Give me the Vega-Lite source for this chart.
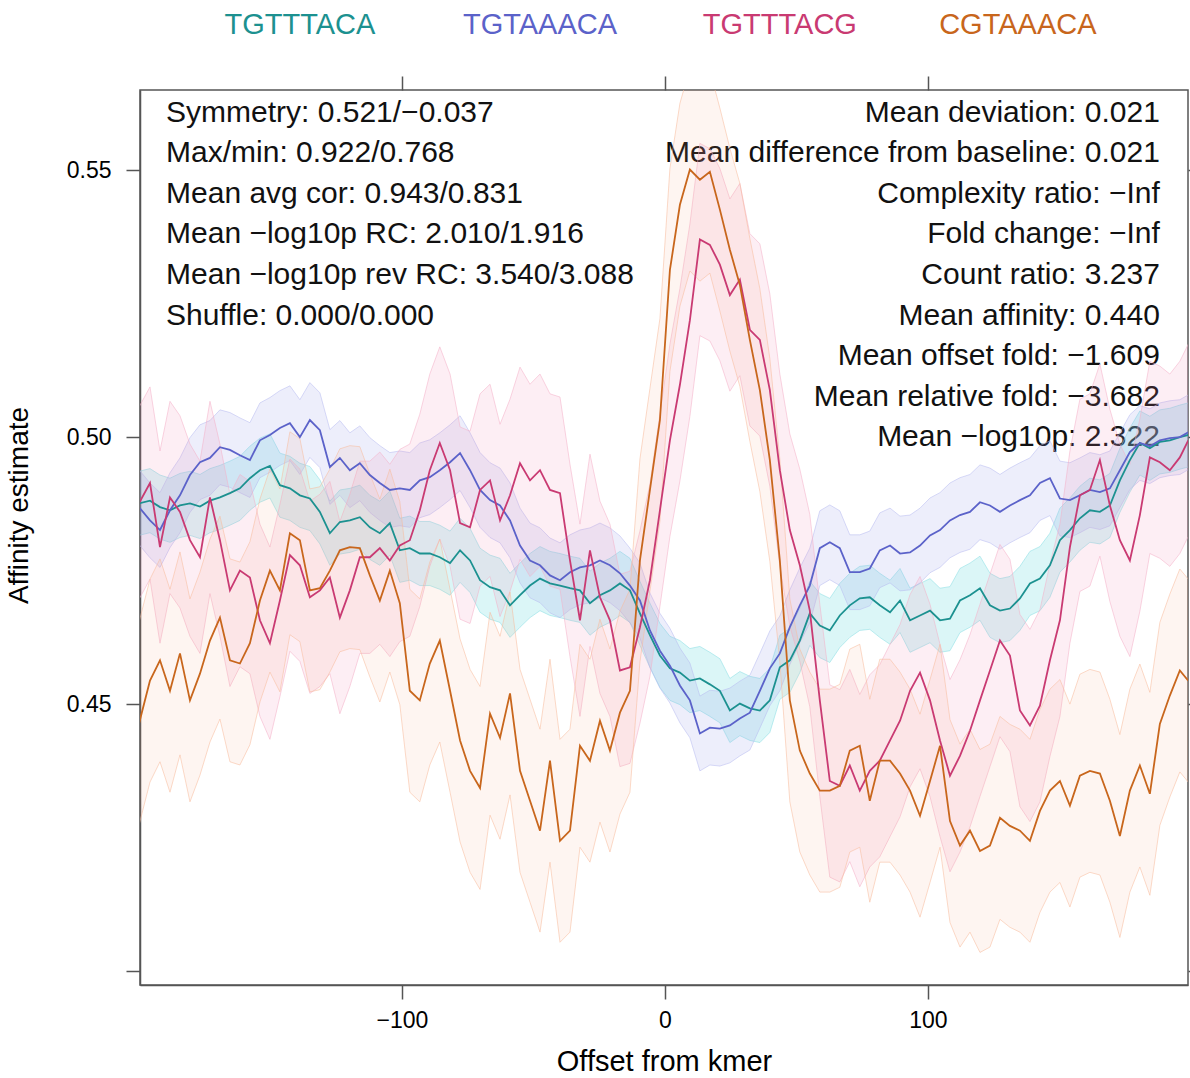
{
"$schema": "https://vega.github.io/schema/vega-lite/v6.json",
"width": 1048, "height": 895,
"autosize": {"type": "none"},
"padding": {"left": 140, "top": 90, "right": 2, "bottom": 93},
"background": "white",
"config": {
 "font": "Liberation Sans",
 "view": {"stroke": "#555555", "strokeWidth": 1.5},
 "axis": {"domainColor": "#555555", "domainWidth": 1.5, "tickColor": "#555555", "tickWidth": 1.5, "tickSize": 14, "labelColor": "black", "labelFont": "Liberation Sans", "labelFontSize": 23, "titleFont": "Liberation Sans", "titleFontWeight": "normal", "titleColor": "black", "grid": false, "labelOverlap": false, "labelBound": false}
},
"datasets": {
"curves": [
{"s":"TGTTTACA","x":-200,"y":0.4876,"lo":0.4816,"hi":0.4936},
{"s":"TGTTTACA","x":-195.8,"y":0.4881,"lo":0.4821,"hi":0.4941},
{"s":"TGTTTACA","x":-192.0,"y":0.4869,"lo":0.4809,"hi":0.4929},
{"s":"TGTTTACA","x":-188.2,"y":0.4863,"lo":0.4803,"hi":0.4923},
{"s":"TGTTTACA","x":-184.4,"y":0.4872,"lo":0.4812,"hi":0.4932},
{"s":"TGTTTACA","x":-180.6,"y":0.4876,"lo":0.4816,"hi":0.4936},
{"s":"TGTTTACA","x":-176.8,"y":0.4870,"lo":0.4810,"hi":0.4930},
{"s":"TGTTTACA","x":-173.0,"y":0.4881,"lo":0.4821,"hi":0.4941},
{"s":"TGTTTACA","x":-169.2,"y":0.4887,"lo":0.4827,"hi":0.4947},
{"s":"TGTTTACA","x":-165.4,"y":0.4895,"lo":0.4835,"hi":0.4955},
{"s":"TGTTTACA","x":-161.6,"y":0.4904,"lo":0.4844,"hi":0.4964},
{"s":"TGTTTACA","x":-157.8,"y":0.4923,"lo":0.4863,"hi":0.4983},
{"s":"TGTTTACA","x":-154.0,"y":0.4938,"lo":0.4878,"hi":0.4998},
{"s":"TGTTTACA","x":-150.2,"y":0.4946,"lo":0.4886,"hi":0.5006},
{"s":"TGTTTACA","x":-146.4,"y":0.4910,"lo":0.4850,"hi":0.4970},
{"s":"TGTTTACA","x":-142.6,"y":0.4904,"lo":0.4844,"hi":0.4964},
{"s":"TGTTTACA","x":-138.8,"y":0.4891,"lo":0.4831,"hi":0.4951},
{"s":"TGTTTACA","x":-135.0,"y":0.4885,"lo":0.4825,"hi":0.4945},
{"s":"TGTTTACA","x":-131.2,"y":0.4860,"lo":0.4800,"hi":0.4920},
{"s":"TGTTTACA","x":-127.4,"y":0.4820,"lo":0.4760,"hi":0.4880},
{"s":"TGTTTACA","x":-123.6,"y":0.4841,"lo":0.4781,"hi":0.4901},
{"s":"TGTTTACA","x":-119.8,"y":0.4844,"lo":0.4784,"hi":0.4904},
{"s":"TGTTTACA","x":-116.0,"y":0.4850,"lo":0.4790,"hi":0.4910},
{"s":"TGTTTACA","x":-112.2,"y":0.4831,"lo":0.4771,"hi":0.4891},
{"s":"TGTTTACA","x":-108.4,"y":0.4820,"lo":0.4760,"hi":0.4880},
{"s":"TGTTTACA","x":-104.6,"y":0.4839,"lo":0.4779,"hi":0.4899},
{"s":"TGTTTACA","x":-100.8,"y":0.4788,"lo":0.4728,"hi":0.4848},
{"s":"TGTTTACA","x":-97.0,"y":0.4792,"lo":0.4732,"hi":0.4852},
{"s":"TGTTTACA","x":-93.2,"y":0.4782,"lo":0.4722,"hi":0.4842},
{"s":"TGTTTACA","x":-89.4,"y":0.4782,"lo":0.4722,"hi":0.4842},
{"s":"TGTTTACA","x":-85.6,"y":0.4775,"lo":0.4715,"hi":0.4835},
{"s":"TGTTTACA","x":-81.7,"y":0.4764,"lo":0.4704,"hi":0.4824},
{"s":"TGTTTACA","x":-77.9,"y":0.4788,"lo":0.4728,"hi":0.4848},
{"s":"TGTTTACA","x":-74.1,"y":0.4769,"lo":0.4709,"hi":0.4829},
{"s":"TGTTTACA","x":-70.3,"y":0.4732,"lo":0.4672,"hi":0.4792},
{"s":"TGTTTACA","x":-66.5,"y":0.4719,"lo":0.4659,"hi":0.4779},
{"s":"TGTTTACA","x":-62.7,"y":0.4713,"lo":0.4653,"hi":0.4773},
{"s":"TGTTTACA","x":-58.9,"y":0.4685,"lo":0.4625,"hi":0.4745},
{"s":"TGTTTACA","x":-55.1,"y":0.4704,"lo":0.4644,"hi":0.4764},
{"s":"TGTTTACA","x":-51.3,"y":0.4722,"lo":0.4662,"hi":0.4782},
{"s":"TGTTTACA","x":-47.5,"y":0.4735,"lo":0.4675,"hi":0.4795},
{"s":"TGTTTACA","x":-43.7,"y":0.4726,"lo":0.4666,"hi":0.4786},
{"s":"TGTTTACA","x":-39.9,"y":0.4722,"lo":0.4662,"hi":0.4782},
{"s":"TGTTTACA","x":-36.1,"y":0.4717,"lo":0.4657,"hi":0.4777},
{"s":"TGTTTACA","x":-32.3,"y":0.4713,"lo":0.4653,"hi":0.4773},
{"s":"TGTTTACA","x":-28.5,"y":0.4689,"lo":0.4629,"hi":0.4749},
{"s":"TGTTTACA","x":-24.7,"y":0.4704,"lo":0.4644,"hi":0.4764},
{"s":"TGTTTACA","x":-20.9,"y":0.4713,"lo":0.4653,"hi":0.4773},
{"s":"TGTTTACA","x":-17.1,"y":0.4726,"lo":0.4666,"hi":0.4786},
{"s":"TGTTTACA","x":-13.3,"y":0.4713,"lo":0.4653,"hi":0.4773},
{"s":"TGTTTACA","x":-9.5,"y":0.4670,"lo":0.4610,"hi":0.4730},
{"s":"TGTTTACA","x":-5.7,"y":0.4629,"lo":0.4569,"hi":0.4689},
{"s":"TGTTTACA","x":-1.9,"y":0.4591,"lo":0.4531,"hi":0.4651},
{"s":"TGTTTACA","x":1.9,"y":0.4567,"lo":0.4507,"hi":0.4627},
{"s":"TGTTTACA","x":5.7,"y":0.4559,"lo":0.4499,"hi":0.4619},
{"s":"TGTTTACA","x":9.5,"y":0.4544,"lo":0.4484,"hi":0.4604},
{"s":"TGTTTACA","x":13.3,"y":0.4548,"lo":0.4488,"hi":0.4608},
{"s":"TGTTTACA","x":17.1,"y":0.4537,"lo":0.4477,"hi":0.4597},
{"s":"TGTTTACA","x":20.9,"y":0.4525,"lo":0.4465,"hi":0.4585},
{"s":"TGTTTACA","x":24.7,"y":0.4488,"lo":0.4428,"hi":0.4548},
{"s":"TGTTTACA","x":28.5,"y":0.4501,"lo":0.4441,"hi":0.4561},
{"s":"TGTTTACA","x":32.3,"y":0.4492,"lo":0.4432,"hi":0.4552},
{"s":"TGTTTACA","x":36.1,"y":0.4488,"lo":0.4428,"hi":0.4548},
{"s":"TGTTTACA","x":39.9,"y":0.4507,"lo":0.4447,"hi":0.4567},
{"s":"TGTTTACA","x":43.7,"y":0.4569,"lo":0.4509,"hi":0.4629},
{"s":"TGTTTACA","x":47.5,"y":0.4582,"lo":0.4522,"hi":0.4642},
{"s":"TGTTTACA","x":51.3,"y":0.4619,"lo":0.4559,"hi":0.4679},
{"s":"TGTTTACA","x":55.1,"y":0.4670,"lo":0.4610,"hi":0.4730},
{"s":"TGTTTACA","x":58.9,"y":0.4647,"lo":0.4587,"hi":0.4707},
{"s":"TGTTTACA","x":62.7,"y":0.4638,"lo":0.4578,"hi":0.4698},
{"s":"TGTTTACA","x":66.5,"y":0.4666,"lo":0.4606,"hi":0.4726},
{"s":"TGTTTACA","x":70.3,"y":0.4685,"lo":0.4625,"hi":0.4745},
{"s":"TGTTTACA","x":74.1,"y":0.4698,"lo":0.4638,"hi":0.4758},
{"s":"TGTTTACA","x":77.9,"y":0.4700,"lo":0.4640,"hi":0.4760},
{"s":"TGTTTACA","x":81.7,"y":0.4685,"lo":0.4625,"hi":0.4745},
{"s":"TGTTTACA","x":85.6,"y":0.4672,"lo":0.4612,"hi":0.4732},
{"s":"TGTTTACA","x":89.4,"y":0.4694,"lo":0.4634,"hi":0.4754},
{"s":"TGTTTACA","x":93.2,"y":0.4657,"lo":0.4597,"hi":0.4717},
{"s":"TGTTTACA","x":97.0,"y":0.4666,"lo":0.4606,"hi":0.4726},
{"s":"TGTTTACA","x":100.8,"y":0.4675,"lo":0.4615,"hi":0.4735},
{"s":"TGTTTACA","x":104.6,"y":0.4657,"lo":0.4597,"hi":0.4717},
{"s":"TGTTTACA","x":108.4,"y":0.4660,"lo":0.4600,"hi":0.4720},
{"s":"TGTTTACA","x":112.2,"y":0.4694,"lo":0.4634,"hi":0.4754},
{"s":"TGTTTACA","x":116.0,"y":0.4704,"lo":0.4644,"hi":0.4764},
{"s":"TGTTTACA","x":119.8,"y":0.4717,"lo":0.4657,"hi":0.4777},
{"s":"TGTTTACA","x":123.6,"y":0.4685,"lo":0.4625,"hi":0.4745},
{"s":"TGTTTACA","x":127.4,"y":0.4675,"lo":0.4615,"hi":0.4735},
{"s":"TGTTTACA","x":131.2,"y":0.4679,"lo":0.4619,"hi":0.4739},
{"s":"TGTTTACA","x":135.0,"y":0.4698,"lo":0.4638,"hi":0.4758},
{"s":"TGTTTACA","x":138.8,"y":0.4726,"lo":0.4666,"hi":0.4786},
{"s":"TGTTTACA","x":142.6,"y":0.4735,"lo":0.4675,"hi":0.4795},
{"s":"TGTTTACA","x":146.4,"y":0.4760,"lo":0.4700,"hi":0.4820},
{"s":"TGTTTACA","x":150.2,"y":0.4807,"lo":0.4747,"hi":0.4867},
{"s":"TGTTTACA","x":154.0,"y":0.4826,"lo":0.4766,"hi":0.4886},
{"s":"TGTTTACA","x":157.8,"y":0.4848,"lo":0.4788,"hi":0.4908},
{"s":"TGTTTACA","x":161.6,"y":0.4863,"lo":0.4803,"hi":0.4923},
{"s":"TGTTTACA","x":165.4,"y":0.4860,"lo":0.4800,"hi":0.4920},
{"s":"TGTTTACA","x":169.2,"y":0.4872,"lo":0.4812,"hi":0.4932},
{"s":"TGTTTACA","x":173.0,"y":0.4919,"lo":0.4859,"hi":0.4979},
{"s":"TGTTTACA","x":176.8,"y":0.4957,"lo":0.4897,"hi":0.5017},
{"s":"TGTTTACA","x":180.6,"y":0.4989,"lo":0.4929,"hi":0.5049},
{"s":"TGTTTACA","x":184.4,"y":0.4979,"lo":0.4919,"hi":0.5039},
{"s":"TGTTTACA","x":188.2,"y":0.4991,"lo":0.4931,"hi":0.5051},
{"s":"TGTTTACA","x":192.0,"y":0.4994,"lo":0.4934,"hi":0.5054},
{"s":"TGTTTACA","x":195.8,"y":0.5000,"lo":0.4940,"hi":0.5060},
{"s":"TGTTTACA","x":199,"y":0.5004,"lo":0.4944,"hi":0.5064},
{"s":"TGTAAACA","x":-200,"y":0.4869,"lo":0.4799,"hi":0.4939},
{"s":"TGTAAACA","x":-195.8,"y":0.4844,"lo":0.4774,"hi":0.4914},
{"s":"TGTAAACA","x":-192.0,"y":0.4826,"lo":0.4756,"hi":0.4896},
{"s":"TGTAAACA","x":-188.2,"y":0.4863,"lo":0.4793,"hi":0.4933},
{"s":"TGTAAACA","x":-184.4,"y":0.4891,"lo":0.4821,"hi":0.4961},
{"s":"TGTAAACA","x":-180.6,"y":0.4929,"lo":0.4859,"hi":0.4999},
{"s":"TGTAAACA","x":-176.8,"y":0.4953,"lo":0.4883,"hi":0.5023},
{"s":"TGTAAACA","x":-173.0,"y":0.4961,"lo":0.4891,"hi":0.5031},
{"s":"TGTAAACA","x":-169.2,"y":0.4981,"lo":0.4911,"hi":0.5051},
{"s":"TGTAAACA","x":-165.4,"y":0.4976,"lo":0.4906,"hi":0.5046},
{"s":"TGTAAACA","x":-161.6,"y":0.4966,"lo":0.4896,"hi":0.5036},
{"s":"TGTAAACA","x":-157.8,"y":0.4957,"lo":0.4887,"hi":0.5027},
{"s":"TGTAAACA","x":-154.0,"y":0.4994,"lo":0.4924,"hi":0.5064},
{"s":"TGTAAACA","x":-150.2,"y":0.5004,"lo":0.4934,"hi":0.5074},
{"s":"TGTAAACA","x":-146.4,"y":0.5017,"lo":0.4947,"hi":0.5087},
{"s":"TGTAAACA","x":-142.6,"y":0.5026,"lo":0.4956,"hi":0.5096},
{"s":"TGTAAACA","x":-138.8,"y":0.5000,"lo":0.4930,"hi":0.5070},
{"s":"TGTAAACA","x":-135.0,"y":0.5032,"lo":0.4962,"hi":0.5102},
{"s":"TGTAAACA","x":-131.2,"y":0.5013,"lo":0.4943,"hi":0.5083},
{"s":"TGTAAACA","x":-127.4,"y":0.4944,"lo":0.4874,"hi":0.5014},
{"s":"TGTAAACA","x":-123.6,"y":0.4961,"lo":0.4891,"hi":0.5031},
{"s":"TGTAAACA","x":-119.8,"y":0.4938,"lo":0.4868,"hi":0.5008},
{"s":"TGTAAACA","x":-116.0,"y":0.4951,"lo":0.4881,"hi":0.5021},
{"s":"TGTAAACA","x":-112.2,"y":0.4929,"lo":0.4859,"hi":0.4999},
{"s":"TGTAAACA","x":-108.4,"y":0.4914,"lo":0.4844,"hi":0.4984},
{"s":"TGTAAACA","x":-104.6,"y":0.4901,"lo":0.4831,"hi":0.4971},
{"s":"TGTAAACA","x":-100.8,"y":0.4904,"lo":0.4834,"hi":0.4974},
{"s":"TGTAAACA","x":-97.0,"y":0.4901,"lo":0.4831,"hi":0.4971},
{"s":"TGTAAACA","x":-93.2,"y":0.4919,"lo":0.4849,"hi":0.4989},
{"s":"TGTAAACA","x":-89.4,"y":0.4925,"lo":0.4855,"hi":0.4995},
{"s":"TGTAAACA","x":-85.6,"y":0.4938,"lo":0.4868,"hi":0.5008},
{"s":"TGTAAACA","x":-81.7,"y":0.4953,"lo":0.4883,"hi":0.5023},
{"s":"TGTAAACA","x":-77.9,"y":0.4970,"lo":0.4900,"hi":0.5040},
{"s":"TGTAAACA","x":-74.1,"y":0.4938,"lo":0.4868,"hi":0.5008},
{"s":"TGTAAACA","x":-70.3,"y":0.4901,"lo":0.4831,"hi":0.4971},
{"s":"TGTAAACA","x":-66.5,"y":0.4882,"lo":0.4812,"hi":0.4952},
{"s":"TGTAAACA","x":-62.7,"y":0.4872,"lo":0.4802,"hi":0.4942},
{"s":"TGTAAACA","x":-58.9,"y":0.4844,"lo":0.4774,"hi":0.4914},
{"s":"TGTAAACA","x":-55.1,"y":0.4797,"lo":0.4727,"hi":0.4867},
{"s":"TGTAAACA","x":-51.3,"y":0.4769,"lo":0.4699,"hi":0.4839},
{"s":"TGTAAACA","x":-47.5,"y":0.4760,"lo":0.4690,"hi":0.4830},
{"s":"TGTAAACA","x":-43.7,"y":0.4741,"lo":0.4671,"hi":0.4811},
{"s":"TGTAAACA","x":-39.9,"y":0.4732,"lo":0.4662,"hi":0.4802},
{"s":"TGTAAACA","x":-36.1,"y":0.4747,"lo":0.4677,"hi":0.4817},
{"s":"TGTAAACA","x":-32.3,"y":0.4756,"lo":0.4686,"hi":0.4826},
{"s":"TGTAAACA","x":-28.5,"y":0.4760,"lo":0.4690,"hi":0.4830},
{"s":"TGTAAACA","x":-24.7,"y":0.4769,"lo":0.4699,"hi":0.4839},
{"s":"TGTAAACA","x":-20.9,"y":0.4760,"lo":0.4690,"hi":0.4830},
{"s":"TGTAAACA","x":-17.1,"y":0.4745,"lo":0.4675,"hi":0.4815},
{"s":"TGTAAACA","x":-13.3,"y":0.4722,"lo":0.4652,"hi":0.4792},
{"s":"TGTAAACA","x":-9.5,"y":0.4694,"lo":0.4624,"hi":0.4764},
{"s":"TGTAAACA","x":-5.7,"y":0.4638,"lo":0.4568,"hi":0.4708},
{"s":"TGTAAACA","x":-1.9,"y":0.4600,"lo":0.4530,"hi":0.4670},
{"s":"TGTAAACA","x":1.9,"y":0.4572,"lo":0.4502,"hi":0.4642},
{"s":"TGTAAACA","x":5.7,"y":0.4535,"lo":0.4465,"hi":0.4605},
{"s":"TGTAAACA","x":9.5,"y":0.4507,"lo":0.4437,"hi":0.4577},
{"s":"TGTAAACA","x":13.3,"y":0.4445,"lo":0.4375,"hi":0.4515},
{"s":"TGTAAACA","x":17.1,"y":0.4456,"lo":0.4386,"hi":0.4526},
{"s":"TGTAAACA","x":20.9,"y":0.4454,"lo":0.4384,"hi":0.4524},
{"s":"TGTAAACA","x":24.7,"y":0.4460,"lo":0.4390,"hi":0.4530},
{"s":"TGTAAACA","x":28.5,"y":0.4473,"lo":0.4403,"hi":0.4543},
{"s":"TGTAAACA","x":32.3,"y":0.4484,"lo":0.4414,"hi":0.4554},
{"s":"TGTAAACA","x":36.1,"y":0.4525,"lo":0.4455,"hi":0.4595},
{"s":"TGTAAACA","x":39.9,"y":0.4567,"lo":0.4497,"hi":0.4637},
{"s":"TGTAAACA","x":43.7,"y":0.4595,"lo":0.4525,"hi":0.4665},
{"s":"TGTAAACA","x":47.5,"y":0.4644,"lo":0.4574,"hi":0.4714},
{"s":"TGTAAACA","x":51.3,"y":0.4685,"lo":0.4615,"hi":0.4755},
{"s":"TGTAAACA","x":55.1,"y":0.4722,"lo":0.4652,"hi":0.4792},
{"s":"TGTAAACA","x":58.9,"y":0.4792,"lo":0.4722,"hi":0.4862},
{"s":"TGTAAACA","x":62.7,"y":0.4803,"lo":0.4733,"hi":0.4873},
{"s":"TGTAAACA","x":66.5,"y":0.4792,"lo":0.4722,"hi":0.4862},
{"s":"TGTAAACA","x":70.3,"y":0.4747,"lo":0.4677,"hi":0.4817},
{"s":"TGTAAACA","x":74.1,"y":0.4747,"lo":0.4677,"hi":0.4817},
{"s":"TGTAAACA","x":77.9,"y":0.4754,"lo":0.4684,"hi":0.4824},
{"s":"TGTAAACA","x":81.7,"y":0.4788,"lo":0.4718,"hi":0.4858},
{"s":"TGTAAACA","x":85.6,"y":0.4797,"lo":0.4727,"hi":0.4867},
{"s":"TGTAAACA","x":89.4,"y":0.4782,"lo":0.4712,"hi":0.4852},
{"s":"TGTAAACA","x":93.2,"y":0.4784,"lo":0.4714,"hi":0.4854},
{"s":"TGTAAACA","x":97.0,"y":0.4797,"lo":0.4727,"hi":0.4867},
{"s":"TGTAAACA","x":100.8,"y":0.4816,"lo":0.4746,"hi":0.4886},
{"s":"TGTAAACA","x":104.6,"y":0.4826,"lo":0.4756,"hi":0.4896},
{"s":"TGTAAACA","x":108.4,"y":0.4844,"lo":0.4774,"hi":0.4914},
{"s":"TGTAAACA","x":112.2,"y":0.4854,"lo":0.4784,"hi":0.4924},
{"s":"TGTAAACA","x":116.0,"y":0.4860,"lo":0.4790,"hi":0.4930},
{"s":"TGTAAACA","x":119.8,"y":0.4878,"lo":0.4808,"hi":0.4948},
{"s":"TGTAAACA","x":123.6,"y":0.4872,"lo":0.4802,"hi":0.4942},
{"s":"TGTAAACA","x":127.4,"y":0.4860,"lo":0.4790,"hi":0.4930},
{"s":"TGTAAACA","x":131.2,"y":0.4872,"lo":0.4802,"hi":0.4942},
{"s":"TGTAAACA","x":135.0,"y":0.4882,"lo":0.4812,"hi":0.4952},
{"s":"TGTAAACA","x":138.8,"y":0.4891,"lo":0.4821,"hi":0.4961},
{"s":"TGTAAACA","x":142.6,"y":0.4914,"lo":0.4844,"hi":0.4984},
{"s":"TGTAAACA","x":146.4,"y":0.4923,"lo":0.4853,"hi":0.4993},
{"s":"TGTAAACA","x":150.2,"y":0.4885,"lo":0.4815,"hi":0.4955},
{"s":"TGTAAACA","x":154.0,"y":0.4882,"lo":0.4812,"hi":0.4952},
{"s":"TGTAAACA","x":157.8,"y":0.4891,"lo":0.4821,"hi":0.4961},
{"s":"TGTAAACA","x":161.6,"y":0.4901,"lo":0.4831,"hi":0.4971},
{"s":"TGTAAACA","x":165.4,"y":0.4897,"lo":0.4827,"hi":0.4967},
{"s":"TGTAAACA","x":169.2,"y":0.4904,"lo":0.4834,"hi":0.4974},
{"s":"TGTAAACA","x":173.0,"y":0.4938,"lo":0.4868,"hi":0.5008},
{"s":"TGTAAACA","x":176.8,"y":0.4972,"lo":0.4902,"hi":0.5042},
{"s":"TGTAAACA","x":180.6,"y":0.4989,"lo":0.4919,"hi":0.5059},
{"s":"TGTAAACA","x":184.4,"y":0.4983,"lo":0.4913,"hi":0.5053},
{"s":"TGTAAACA","x":188.2,"y":0.4994,"lo":0.4924,"hi":0.5064},
{"s":"TGTAAACA","x":192.0,"y":0.4998,"lo":0.4928,"hi":0.5068},
{"s":"TGTAAACA","x":195.8,"y":0.5000,"lo":0.4930,"hi":0.5070},
{"s":"TGTAAACA","x":199,"y":0.5009,"lo":0.4939,"hi":0.5079},
{"s":"TGTTTACG","x":-200,"y":0.4876,"lo":0.4696,"hi":0.5056},
{"s":"TGTTTACG","x":-195.8,"y":0.4914,"lo":0.4734,"hi":0.5094},
{"s":"TGTTTACG","x":-192.0,"y":0.4794,"lo":0.4614,"hi":0.4974},
{"s":"TGTTTACG","x":-188.2,"y":0.4887,"lo":0.4707,"hi":0.5067},
{"s":"TGTTTACG","x":-184.4,"y":0.4860,"lo":0.4680,"hi":0.5040},
{"s":"TGTTTACG","x":-180.6,"y":0.4807,"lo":0.4627,"hi":0.4987},
{"s":"TGTTTACG","x":-176.8,"y":0.4775,"lo":0.4595,"hi":0.4955},
{"s":"TGTTTACG","x":-173.0,"y":0.4887,"lo":0.4707,"hi":0.5067},
{"s":"TGTTTACG","x":-169.2,"y":0.4807,"lo":0.4627,"hi":0.4987},
{"s":"TGTTTACG","x":-165.4,"y":0.4713,"lo":0.4533,"hi":0.4893},
{"s":"TGTTTACG","x":-161.6,"y":0.4750,"lo":0.4570,"hi":0.4930},
{"s":"TGTTTACG","x":-157.8,"y":0.4737,"lo":0.4557,"hi":0.4917},
{"s":"TGTTTACG","x":-154.0,"y":0.4657,"lo":0.4477,"hi":0.4837},
{"s":"TGTTTACG","x":-150.2,"y":0.4614,"lo":0.4434,"hi":0.4794},
{"s":"TGTTTACG","x":-146.4,"y":0.4694,"lo":0.4514,"hi":0.4874},
{"s":"TGTTTACG","x":-142.6,"y":0.4779,"lo":0.4599,"hi":0.4959},
{"s":"TGTTTACG","x":-138.8,"y":0.4760,"lo":0.4580,"hi":0.4940},
{"s":"TGTTTACG","x":-135.0,"y":0.4700,"lo":0.4520,"hi":0.4880},
{"s":"TGTTTACG","x":-131.2,"y":0.4713,"lo":0.4533,"hi":0.4893},
{"s":"TGTTTACG","x":-127.4,"y":0.4737,"lo":0.4557,"hi":0.4917},
{"s":"TGTTTACG","x":-123.6,"y":0.4662,"lo":0.4482,"hi":0.4842},
{"s":"TGTTTACG","x":-119.8,"y":0.4713,"lo":0.4533,"hi":0.4893},
{"s":"TGTTTACG","x":-116.0,"y":0.4775,"lo":0.4595,"hi":0.4955},
{"s":"TGTTTACG","x":-112.2,"y":0.4775,"lo":0.4595,"hi":0.4955},
{"s":"TGTTTACG","x":-108.4,"y":0.4792,"lo":0.4612,"hi":0.4972},
{"s":"TGTTTACG","x":-104.6,"y":0.4769,"lo":0.4589,"hi":0.4949},
{"s":"TGTTTACG","x":-100.8,"y":0.4797,"lo":0.4617,"hi":0.4977},
{"s":"TGTTTACG","x":-97.0,"y":0.4807,"lo":0.4627,"hi":0.4987},
{"s":"TGTTTACG","x":-93.2,"y":0.4863,"lo":0.4683,"hi":0.5043},
{"s":"TGTTTACG","x":-89.4,"y":0.4938,"lo":0.4758,"hi":0.5118},
{"s":"TGTTTACG","x":-85.6,"y":0.4989,"lo":0.4809,"hi":0.5169},
{"s":"TGTTTACG","x":-81.7,"y":0.4938,"lo":0.4758,"hi":0.5118},
{"s":"TGTTTACG","x":-77.9,"y":0.4839,"lo":0.4659,"hi":0.5019},
{"s":"TGTTTACG","x":-74.1,"y":0.4831,"lo":0.4651,"hi":0.5011},
{"s":"TGTTTACG","x":-70.3,"y":0.4901,"lo":0.4721,"hi":0.5081},
{"s":"TGTTTACG","x":-66.5,"y":0.4919,"lo":0.4739,"hi":0.5099},
{"s":"TGTTTACG","x":-62.7,"y":0.4844,"lo":0.4664,"hi":0.5024},
{"s":"TGTTTACG","x":-58.9,"y":0.4891,"lo":0.4711,"hi":0.5071},
{"s":"TGTTTACG","x":-55.1,"y":0.4951,"lo":0.4771,"hi":0.5131},
{"s":"TGTTTACG","x":-51.3,"y":0.4919,"lo":0.4739,"hi":0.5099},
{"s":"TGTTTACG","x":-47.5,"y":0.4938,"lo":0.4758,"hi":0.5118},
{"s":"TGTTTACG","x":-43.7,"y":0.4901,"lo":0.4721,"hi":0.5081},
{"s":"TGTTTACG","x":-39.9,"y":0.4895,"lo":0.4715,"hi":0.5075},
{"s":"TGTTTACG","x":-36.1,"y":0.4769,"lo":0.4589,"hi":0.4949},
{"s":"TGTTTACG","x":-32.3,"y":0.4657,"lo":0.4477,"hi":0.4837},
{"s":"TGTTTACG","x":-28.5,"y":0.4788,"lo":0.4608,"hi":0.4968},
{"s":"TGTTTACG","x":-24.7,"y":0.4700,"lo":0.4520,"hi":0.4880},
{"s":"TGTTTACG","x":-20.9,"y":0.4657,"lo":0.4477,"hi":0.4837},
{"s":"TGTTTACG","x":-17.1,"y":0.4563,"lo":0.4383,"hi":0.4743},
{"s":"TGTTTACG","x":-13.3,"y":0.4569,"lo":0.4389,"hi":0.4749},
{"s":"TGTTTACG","x":-9.5,"y":0.4644,"lo":0.4464,"hi":0.4824},
{"s":"TGTTTACG","x":-5.7,"y":0.4732,"lo":0.4552,"hi":0.4912},
{"s":"TGTTTACG","x":-1.9,"y":0.4863,"lo":0.4683,"hi":0.5043},
{"s":"TGTTTACG","x":1.9,"y":0.4994,"lo":0.4814,"hi":0.5174},
{"s":"TGTTTACG","x":5.7,"y":0.5098,"lo":0.4918,"hi":0.5278},
{"s":"TGTTTACG","x":9.5,"y":0.5219,"lo":0.5039,"hi":0.5399},
{"s":"TGTTTACG","x":13.3,"y":0.5370,"lo":0.5190,"hi":0.5550},
{"s":"TGTTTACG","x":17.1,"y":0.5360,"lo":0.5180,"hi":0.5540},
{"s":"TGTTTACG","x":20.9,"y":0.5323,"lo":0.5143,"hi":0.5503},
{"s":"TGTTTACG","x":24.7,"y":0.5266,"lo":0.5086,"hi":0.5446},
{"s":"TGTTTACG","x":28.5,"y":0.5295,"lo":0.5115,"hi":0.5475},
{"s":"TGTTTACG","x":32.3,"y":0.5201,"lo":0.5021,"hi":0.5381},
{"s":"TGTTTACG","x":36.1,"y":0.5182,"lo":0.5002,"hi":0.5362},
{"s":"TGTTTACG","x":39.9,"y":0.5088,"lo":0.4908,"hi":0.5268},
{"s":"TGTTTACG","x":43.7,"y":0.4938,"lo":0.4758,"hi":0.5118},
{"s":"TGTTTACG","x":47.5,"y":0.4826,"lo":0.4646,"hi":0.5006},
{"s":"TGTTTACG","x":51.3,"y":0.4760,"lo":0.4580,"hi":0.4940},
{"s":"TGTTTACG","x":55.1,"y":0.4675,"lo":0.4495,"hi":0.4855},
{"s":"TGTTTACG","x":58.9,"y":0.4507,"lo":0.4327,"hi":0.4687},
{"s":"TGTTTACG","x":62.7,"y":0.4356,"lo":0.4176,"hi":0.4536},
{"s":"TGTTTACG","x":66.5,"y":0.4347,"lo":0.4167,"hi":0.4527},
{"s":"TGTTTACG","x":70.3,"y":0.4385,"lo":0.4205,"hi":0.4565},
{"s":"TGTTTACG","x":74.1,"y":0.4338,"lo":0.4158,"hi":0.4518},
{"s":"TGTTTACG","x":77.9,"y":0.4375,"lo":0.4195,"hi":0.4555},
{"s":"TGTTTACG","x":81.7,"y":0.4394,"lo":0.4214,"hi":0.4574},
{"s":"TGTTTACG","x":85.6,"y":0.4432,"lo":0.4252,"hi":0.4612},
{"s":"TGTTTACG","x":89.4,"y":0.4469,"lo":0.4289,"hi":0.4649},
{"s":"TGTTTACG","x":93.2,"y":0.4525,"lo":0.4345,"hi":0.4705},
{"s":"TGTTTACG","x":97.0,"y":0.4559,"lo":0.4379,"hi":0.4739},
{"s":"TGTTTACG","x":100.8,"y":0.4507,"lo":0.4327,"hi":0.4687},
{"s":"TGTTTACG","x":104.6,"y":0.4432,"lo":0.4252,"hi":0.4612},
{"s":"TGTTTACG","x":108.4,"y":0.4366,"lo":0.4186,"hi":0.4546},
{"s":"TGTTTACG","x":112.2,"y":0.4403,"lo":0.4223,"hi":0.4583},
{"s":"TGTTTACG","x":116.0,"y":0.4450,"lo":0.4270,"hi":0.4630},
{"s":"TGTTTACG","x":119.8,"y":0.4507,"lo":0.4327,"hi":0.4687},
{"s":"TGTTTACG","x":123.6,"y":0.4563,"lo":0.4383,"hi":0.4743},
{"s":"TGTTTACG","x":127.4,"y":0.4619,"lo":0.4439,"hi":0.4799},
{"s":"TGTTTACG","x":131.2,"y":0.4591,"lo":0.4411,"hi":0.4771},
{"s":"TGTTTACG","x":135.0,"y":0.4488,"lo":0.4308,"hi":0.4668},
{"s":"TGTTTACG","x":138.8,"y":0.4460,"lo":0.4280,"hi":0.4640},
{"s":"TGTTTACG","x":142.6,"y":0.4497,"lo":0.4317,"hi":0.4677},
{"s":"TGTTTACG","x":146.4,"y":0.4582,"lo":0.4402,"hi":0.4762},
{"s":"TGTTTACG","x":150.2,"y":0.4657,"lo":0.4477,"hi":0.4837},
{"s":"TGTTTACG","x":154.0,"y":0.4794,"lo":0.4614,"hi":0.4974},
{"s":"TGTTTACG","x":157.8,"y":0.4891,"lo":0.4711,"hi":0.5071},
{"s":"TGTTTACG","x":161.6,"y":0.4901,"lo":0.4721,"hi":0.5081},
{"s":"TGTTTACG","x":165.4,"y":0.4957,"lo":0.4777,"hi":0.5137},
{"s":"TGTTTACG","x":169.2,"y":0.4872,"lo":0.4692,"hi":0.5052},
{"s":"TGTTTACG","x":173.0,"y":0.4807,"lo":0.4627,"hi":0.4987},
{"s":"TGTTTACG","x":176.8,"y":0.4769,"lo":0.4589,"hi":0.4949},
{"s":"TGTTTACG","x":180.6,"y":0.4854,"lo":0.4674,"hi":0.5034},
{"s":"TGTTTACG","x":184.4,"y":0.4962,"lo":0.4782,"hi":0.5142},
{"s":"TGTTTACG","x":188.2,"y":0.4953,"lo":0.4773,"hi":0.5133},
{"s":"TGTTTACG","x":192.0,"y":0.4938,"lo":0.4758,"hi":0.5118},
{"s":"TGTTTACG","x":195.8,"y":0.4962,"lo":0.4782,"hi":0.5142},
{"s":"TGTTTACG","x":199,"y":0.4994,"lo":0.4814,"hi":0.5174},
{"s":"CGTAAACA","x":-200,"y":0.4463,"lo":0.4273,"hi":0.4653},
{"s":"CGTAAACA","x":-195.8,"y":0.4544,"lo":0.4354,"hi":0.4734},
{"s":"CGTAAACA","x":-192.0,"y":0.4582,"lo":0.4392,"hi":0.4772},
{"s":"CGTAAACA","x":-188.2,"y":0.4525,"lo":0.4335,"hi":0.4715},
{"s":"CGTAAACA","x":-184.4,"y":0.4595,"lo":0.4405,"hi":0.4785},
{"s":"CGTAAACA","x":-180.6,"y":0.4507,"lo":0.4317,"hi":0.4697},
{"s":"CGTAAACA","x":-176.8,"y":0.4557,"lo":0.4367,"hi":0.4747},
{"s":"CGTAAACA","x":-173.0,"y":0.4619,"lo":0.4429,"hi":0.4809},
{"s":"CGTAAACA","x":-169.2,"y":0.4662,"lo":0.4472,"hi":0.4852},
{"s":"CGTAAACA","x":-165.4,"y":0.4582,"lo":0.4392,"hi":0.4772},
{"s":"CGTAAACA","x":-161.6,"y":0.4576,"lo":0.4386,"hi":0.4766},
{"s":"CGTAAACA","x":-157.8,"y":0.4614,"lo":0.4424,"hi":0.4804},
{"s":"CGTAAACA","x":-154.0,"y":0.4694,"lo":0.4504,"hi":0.4884},
{"s":"CGTAAACA","x":-150.2,"y":0.4750,"lo":0.4560,"hi":0.4940},
{"s":"CGTAAACA","x":-146.4,"y":0.4713,"lo":0.4523,"hi":0.4903},
{"s":"CGTAAACA","x":-142.6,"y":0.4820,"lo":0.4630,"hi":0.5010},
{"s":"CGTAAACA","x":-138.8,"y":0.4807,"lo":0.4617,"hi":0.4997},
{"s":"CGTAAACA","x":-135.0,"y":0.4713,"lo":0.4523,"hi":0.4903},
{"s":"CGTAAACA","x":-131.2,"y":0.4717,"lo":0.4527,"hi":0.4907},
{"s":"CGTAAACA","x":-127.4,"y":0.4750,"lo":0.4560,"hi":0.4940},
{"s":"CGTAAACA","x":-123.6,"y":0.4788,"lo":0.4598,"hi":0.4978},
{"s":"CGTAAACA","x":-119.8,"y":0.4794,"lo":0.4604,"hi":0.4984},
{"s":"CGTAAACA","x":-116.0,"y":0.4792,"lo":0.4602,"hi":0.4982},
{"s":"CGTAAACA","x":-112.2,"y":0.4741,"lo":0.4551,"hi":0.4931},
{"s":"CGTAAACA","x":-108.4,"y":0.4694,"lo":0.4504,"hi":0.4884},
{"s":"CGTAAACA","x":-104.6,"y":0.4750,"lo":0.4560,"hi":0.4940},
{"s":"CGTAAACA","x":-100.8,"y":0.4689,"lo":0.4499,"hi":0.4879},
{"s":"CGTAAACA","x":-97.0,"y":0.4525,"lo":0.4335,"hi":0.4715},
{"s":"CGTAAACA","x":-93.2,"y":0.4507,"lo":0.4317,"hi":0.4697},
{"s":"CGTAAACA","x":-89.4,"y":0.4576,"lo":0.4386,"hi":0.4766},
{"s":"CGTAAACA","x":-85.6,"y":0.4619,"lo":0.4429,"hi":0.4809},
{"s":"CGTAAACA","x":-81.7,"y":0.4525,"lo":0.4335,"hi":0.4715},
{"s":"CGTAAACA","x":-77.9,"y":0.4432,"lo":0.4242,"hi":0.4622},
{"s":"CGTAAACA","x":-74.1,"y":0.4375,"lo":0.4185,"hi":0.4565},
{"s":"CGTAAACA","x":-70.3,"y":0.4343,"lo":0.4153,"hi":0.4533},
{"s":"CGTAAACA","x":-66.5,"y":0.4482,"lo":0.4292,"hi":0.4672},
{"s":"CGTAAACA","x":-62.7,"y":0.4437,"lo":0.4247,"hi":0.4627},
{"s":"CGTAAACA","x":-58.9,"y":0.4520,"lo":0.4330,"hi":0.4710},
{"s":"CGTAAACA","x":-55.1,"y":0.4375,"lo":0.4185,"hi":0.4565},
{"s":"CGTAAACA","x":-51.3,"y":0.4319,"lo":0.4129,"hi":0.4509},
{"s":"CGTAAACA","x":-47.5,"y":0.4263,"lo":0.4073,"hi":0.4453},
{"s":"CGTAAACA","x":-43.7,"y":0.4394,"lo":0.4204,"hi":0.4584},
{"s":"CGTAAACA","x":-39.9,"y":0.4244,"lo":0.4054,"hi":0.4434},
{"s":"CGTAAACA","x":-36.1,"y":0.4263,"lo":0.4073,"hi":0.4453},
{"s":"CGTAAACA","x":-32.3,"y":0.4422,"lo":0.4232,"hi":0.4612},
{"s":"CGTAAACA","x":-28.5,"y":0.4394,"lo":0.4204,"hi":0.4584},
{"s":"CGTAAACA","x":-24.7,"y":0.4469,"lo":0.4279,"hi":0.4659},
{"s":"CGTAAACA","x":-20.9,"y":0.4413,"lo":0.4223,"hi":0.4603},
{"s":"CGTAAACA","x":-17.1,"y":0.4484,"lo":0.4294,"hi":0.4674},
{"s":"CGTAAACA","x":-13.3,"y":0.4525,"lo":0.4335,"hi":0.4715},
{"s":"CGTAAACA","x":-9.5,"y":0.4769,"lo":0.4579,"hi":0.4959},
{"s":"CGTAAACA","x":-5.7,"y":0.4901,"lo":0.4711,"hi":0.5091},
{"s":"CGTAAACA","x":-1.9,"y":0.5032,"lo":0.4842,"hi":0.5222},
{"s":"CGTAAACA","x":1.9,"y":0.5313,"lo":0.5123,"hi":0.5503},
{"s":"CGTAAACA","x":5.7,"y":0.5435,"lo":0.5245,"hi":0.5625},
{"s":"CGTAAACA","x":9.5,"y":0.5501,"lo":0.5311,"hi":0.5691},
{"s":"CGTAAACA","x":13.3,"y":0.5482,"lo":0.5292,"hi":0.5672},
{"s":"CGTAAACA","x":17.1,"y":0.5497,"lo":0.5307,"hi":0.5687},
{"s":"CGTAAACA","x":20.9,"y":0.5426,"lo":0.5236,"hi":0.5616},
{"s":"CGTAAACA","x":24.7,"y":0.5351,"lo":0.5161,"hi":0.5541},
{"s":"CGTAAACA","x":28.5,"y":0.5285,"lo":0.5095,"hi":0.5475},
{"s":"CGTAAACA","x":32.3,"y":0.5182,"lo":0.4992,"hi":0.5372},
{"s":"CGTAAACA","x":36.1,"y":0.5088,"lo":0.4898,"hi":0.5278},
{"s":"CGTAAACA","x":39.9,"y":0.4957,"lo":0.4767,"hi":0.5147},
{"s":"CGTAAACA","x":43.7,"y":0.4769,"lo":0.4579,"hi":0.4959},
{"s":"CGTAAACA","x":47.5,"y":0.4507,"lo":0.4317,"hi":0.4697},
{"s":"CGTAAACA","x":51.3,"y":0.4413,"lo":0.4223,"hi":0.4603},
{"s":"CGTAAACA","x":55.1,"y":0.4370,"lo":0.4180,"hi":0.4560},
{"s":"CGTAAACA","x":58.9,"y":0.4338,"lo":0.4148,"hi":0.4528},
{"s":"CGTAAACA","x":62.7,"y":0.4338,"lo":0.4148,"hi":0.4528},
{"s":"CGTAAACA","x":66.5,"y":0.4347,"lo":0.4157,"hi":0.4537},
{"s":"CGTAAACA","x":70.3,"y":0.4413,"lo":0.4223,"hi":0.4603},
{"s":"CGTAAACA","x":74.1,"y":0.4422,"lo":0.4232,"hi":0.4612},
{"s":"CGTAAACA","x":77.9,"y":0.4319,"lo":0.4129,"hi":0.4509},
{"s":"CGTAAACA","x":81.7,"y":0.4394,"lo":0.4204,"hi":0.4584},
{"s":"CGTAAACA","x":85.6,"y":0.4394,"lo":0.4204,"hi":0.4584},
{"s":"CGTAAACA","x":89.4,"y":0.4370,"lo":0.4180,"hi":0.4560},
{"s":"CGTAAACA","x":93.2,"y":0.4338,"lo":0.4148,"hi":0.4528},
{"s":"CGTAAACA","x":97.0,"y":0.4291,"lo":0.4101,"hi":0.4481},
{"s":"CGTAAACA","x":100.8,"y":0.4356,"lo":0.4166,"hi":0.4546},
{"s":"CGTAAACA","x":104.6,"y":0.4422,"lo":0.4232,"hi":0.4612},
{"s":"CGTAAACA","x":108.4,"y":0.4281,"lo":0.4091,"hi":0.4471},
{"s":"CGTAAACA","x":112.2,"y":0.4235,"lo":0.4045,"hi":0.4425},
{"s":"CGTAAACA","x":116.0,"y":0.4263,"lo":0.4073,"hi":0.4453},
{"s":"CGTAAACA","x":119.8,"y":0.4225,"lo":0.4035,"hi":0.4415},
{"s":"CGTAAACA","x":123.6,"y":0.4235,"lo":0.4045,"hi":0.4425},
{"s":"CGTAAACA","x":127.4,"y":0.4287,"lo":0.4097,"hi":0.4477},
{"s":"CGTAAACA","x":131.2,"y":0.4272,"lo":0.4082,"hi":0.4462},
{"s":"CGTAAACA","x":135.0,"y":0.4263,"lo":0.4073,"hi":0.4453},
{"s":"CGTAAACA","x":138.8,"y":0.4244,"lo":0.4054,"hi":0.4434},
{"s":"CGTAAACA","x":142.6,"y":0.4300,"lo":0.4110,"hi":0.4490},
{"s":"CGTAAACA","x":146.4,"y":0.4338,"lo":0.4148,"hi":0.4528},
{"s":"CGTAAACA","x":150.2,"y":0.4356,"lo":0.4166,"hi":0.4546},
{"s":"CGTAAACA","x":154.0,"y":0.4310,"lo":0.4120,"hi":0.4500},
{"s":"CGTAAACA","x":157.8,"y":0.4366,"lo":0.4176,"hi":0.4556},
{"s":"CGTAAACA","x":161.6,"y":0.4375,"lo":0.4185,"hi":0.4565},
{"s":"CGTAAACA","x":165.4,"y":0.4370,"lo":0.4180,"hi":0.4560},
{"s":"CGTAAACA","x":169.2,"y":0.4319,"lo":0.4129,"hi":0.4509},
{"s":"CGTAAACA","x":173.0,"y":0.4253,"lo":0.4063,"hi":0.4443},
{"s":"CGTAAACA","x":176.8,"y":0.4338,"lo":0.4148,"hi":0.4528},
{"s":"CGTAAACA","x":180.6,"y":0.4385,"lo":0.4195,"hi":0.4575},
{"s":"CGTAAACA","x":184.4,"y":0.4332,"lo":0.4142,"hi":0.4522},
{"s":"CGTAAACA","x":188.2,"y":0.4463,"lo":0.4273,"hi":0.4653},
{"s":"CGTAAACA","x":192.0,"y":0.4516,"lo":0.4326,"hi":0.4706},
{"s":"CGTAAACA","x":195.8,"y":0.4563,"lo":0.4373,"hi":0.4753},
{"s":"CGTAAACA","x":199,"y":0.4544,"lo":0.4354,"hi":0.4734}
],
"notesLeft": [
{"t":"Symmetry: 0.521/−0.037","x":-189.7,"y":0.5607},
{"t":"Max/min: 0.922/0.768","x":-189.7,"y":0.5532},
{"t":"Mean avg cor: 0.943/0.831","x":-189.7,"y":0.5455},
{"t":"Mean −log10p RC: 2.010/1.916","x":-189.7,"y":0.5380},
{"t":"Mean −log10p rev RC: 3.540/3.088","x":-189.7,"y":0.5303},
{"t":"Shuffle: 0.000/0.000","x":-189.7,"y":0.5227}
],
"notesRight": [
{"t":"Mean deviation: 0.021","x":188.2,"y":0.5607},
{"t":"Mean difference from baseline: 0.021","x":188.2,"y":0.5532},
{"t":"Complexity ratio: −Inf","x":188.2,"y":0.5455},
{"t":"Fold change: −Inf","x":188.2,"y":0.5380},
{"t":"Count ratio: 3.237","x":188.2,"y":0.5303},
{"t":"Mean affinity: 0.440","x":188.2,"y":0.5227},
{"t":"Mean offset fold: −1.609","x":188.2,"y":0.5152},
{"t":"Mean relative fold: −3.682","x":188.2,"y":0.5075},
{"t":"Mean −log10p: 2.322","x":188.2,"y":0.5000}
],
"keys": [
{"s":"TGTTTACA","x":-138.8,"y":0.5772},
{"s":"TGTAAACA","x":-47.5,"y":0.5772},
{"s":"TGTTTACG","x":43.7,"y":0.5772},
{"s":"CGTAAACA","x":134.2,"y":0.5772}
]
},
"resolve": {"axis": {"x": "independent", "y": "independent"}},
"layer": [
{
 "data": {"name": "notesLeft"},
 "mark": {"type": "text", "align": "left", "baseline": "middle", "fontSize": 30, "color": "#111111", "font": "Liberation Sans"},
 "encoding": {
  "x": {"field": "x", "type": "quantitative", "scale": {"domain": [-199.6, 198.9], "nice": false, "zero": false},
        "axis": {"orient": "bottom", "values": [-100, 0, 100], "format": "d", "labelPadding": 10, "title": "Offset from kmer", "titleFontSize": 29, "titlePadding": 15}},
  "y": {"field": "y", "type": "quantitative", "scale": {"domain": [0.3974, 0.565], "nice": false, "zero": false},
        "axis": {"orient": "left", "values": [0.40, 0.45, 0.50, 0.55], "labelExpr": "datum.value < 0.42 ? '' : format(datum.value, '.2f')", "labelPadding": 15, "title": "Affinity estimate", "titleFontSize": 28, "titlePadding": 33, "titleY": 415}},
  "text": {"field": "t", "type": "nominal"}
 }
},
{
 "data": {"name": "notesRight"},
 "mark": {"type": "text", "align": "right", "baseline": "middle", "fontSize": 30, "color": "#111111", "font": "Liberation Sans"},
 "encoding": {
  "x": {"field": "x", "type": "quantitative", "axis": {"orient": "top", "values": [-100, 0, 100], "labels": false, "domain": false, "title": null}},
  "y": {"field": "y", "type": "quantitative", "axis": {"orient": "right", "values": [0.40, 0.45, 0.50, 0.55], "labels": false, "domain": false, "title": null}},
  "text": {"field": "t", "type": "nominal"}
 }
},
{
 "data": {"name": "curves"},
 "mark": {"type": "area", "clip": true, "strokeOpacity": 0.55, "strokeWidth": 1},
 "encoding": {
  "x": {"field": "x", "type": "quantitative", "axis": null},
  "y": {"field": "lo", "type": "quantitative", "axis": null},
  "y2": {"field": "hi"},
  "fill": {"field": "s", "type": "nominal", "legend": null, "scale": {"domain": ["TGTTTACA", "TGTAAACA", "TGTTTACG", "CGTAAACA"], "range": ["#5cd6dc", "#9a9fea", "#ee86ae", "#f4a07a"]}},
  "fillOpacity": {"field": "s", "type": "nominal", "legend": null, "scale": {"domain": ["TGTTTACA", "TGTAAACA", "TGTTTACG", "CGTAAACA"], "range": [0.22, 0.1, 0.07, 0.08]}},
  "stroke": {"field": "s", "type": "nominal", "legend": null, "scale": {"domain": ["TGTTTACA", "TGTAAACA", "TGTTTACG", "CGTAAACA"], "range": ["#8adfe3", "#b8bcf0", "#f4b0c8", "#f7bc9c"]}}
 }
},
{
 "data": {"name": "curves"},
 "mark": {"type": "line", "clip": true, "strokeWidth": 1.8},
 "encoding": {
  "x": {"field": "x", "type": "quantitative", "axis": null},
  "y": {"field": "y", "type": "quantitative", "axis": null},
  "color": {"field": "s", "type": "nominal", "legend": null, "scale": {"domain": ["TGTTTACA", "TGTAAACA", "TGTTTACG", "CGTAAACA"], "range": ["#1c9190", "#5b62c9", "#c93a72", "#c8661c"]}}
 }
},
{
 "data": {"name": "keys"},
 "mark": {"type": "text", "align": "center", "baseline": "middle", "fontSize": 29, "font": "Liberation Sans", "clip": false},
 "encoding": {
  "x": {"field": "x", "type": "quantitative", "axis": null},
  "y": {"field": "y", "type": "quantitative", "axis": null},
  "text": {"field": "s", "type": "nominal"},
  "color": {"field": "s", "type": "nominal", "legend": null}
 }
}
]
}
